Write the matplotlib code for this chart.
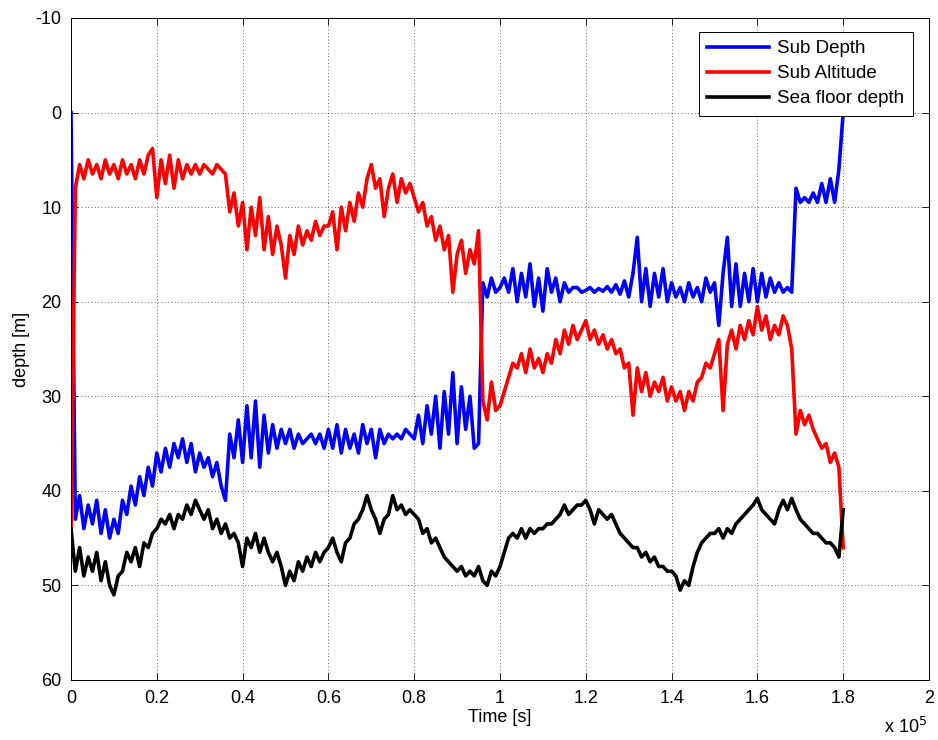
import numpy as np
import matplotlib
matplotlib.use('Agg')
import matplotlib.pyplot as plt

# samples every 1000 s (depth in m)
sub_depth = [
    0, 43, 40.5, 44, 41.5, 43.5, 41, 44.5, 42, 45,
    43, 44.5, 41, 42.5, 39.5, 41.5, 38.5, 40.5, 37.5, 39.5,
    36, 38, 35.5, 37.5, 35, 36.5, 34.5, 37, 35, 38,
    36, 37.5, 36.5, 38.5, 37, 39.5, 41, 34, 36.5, 32.5,
    37, 31, 36.5, 30.5, 37.5, 32, 36, 33, 35.5, 33.5,
    35, 33.5, 35.5, 34, 35, 34.5, 34, 35, 34, 35.5,
    33.5, 35.5, 33, 36, 33.5, 35.5, 34, 36, 33, 35,
    33.5, 36.5, 33.5, 35, 34, 34.5, 34, 34.5, 33.5, 34,
    34.5, 32, 35, 31, 34, 30, 35.5, 29.5, 34, 27.5,
    35, 29, 33.5, 30, 35.5, 35, 18, 19.5, 17.5, 19,
    18.5, 17.5, 19, 16.5, 20, 17, 19.5, 16, 20.5, 17.5,
    21, 16.5, 19, 17.5, 20, 18, 19, 18.5, 18.5, 19,
    18.8, 18.5, 19, 18.6, 18.9, 18.4, 19, 18.2, 19.2, 17.8,
    19.5, 17, 13.2, 20, 16.5, 20.5, 17, 19.5, 16.5, 20,
    18, 19.5, 18.5, 20, 18, 19.5, 18.5, 20, 17.5, 19,
    18, 22.5, 17, 13.2, 20.5, 16, 20.5, 17, 20, 16.5,
    20, 17, 19.5, 17.5, 19, 18, 19, 18.5, 19, 8,
    9.5, 9, 9.5, 8.5, 9.5, 7.5, 9.5, 7, 9.5, 6,
    0]

sub_altitude = [
    45, 8, 5.5, 7, 5, 6.5, 5.5, 7, 5, 6.5,
    5.5, 7, 5, 6.5, 5.5, 7, 5, 6.5, 4.5, 3.8,
    9, 5, 7.5, 4.5, 8, 5, 7, 5.5, 6.5, 5.5,
    6.5, 5.5, 6, 6.5, 5.5, 6, 6.5, 10.5, 8.5, 12,
    9.5, 14.5, 10, 13, 9, 14.5, 11, 15, 12, 14,
    17.5, 13, 15, 12, 14, 12.5, 13.5, 11.5, 13, 12,
    12, 10.5, 14.5, 10, 12.5, 9.5, 11.5, 8.5, 10, 7,
    5.5, 8, 7, 11, 8, 6.5, 9.5, 7, 8.5, 7.5,
    9, 10.5, 9.5, 12, 11, 13.5, 12, 14.5, 13, 19,
    15, 13.5, 17, 14.5, 16, 12.5, 30.5, 32.5, 28.5, 31.5,
    31, 29.5, 28, 26.5, 27, 25.5, 27.5, 25, 27, 26,
    27.5, 25.5, 26.5, 24, 25.5, 23, 24.5, 22.5, 24, 23,
    22, 24, 23, 24.5, 23.5, 25, 24, 25.5, 25, 27,
    26.5, 32, 27, 29.5, 27.5, 30, 28.5, 29.5, 28, 30.5,
    29, 30.5, 29.5, 31.5, 29.5, 30.5, 28.5, 28, 26.5, 27,
    25.5, 24, 31.5, 24.5, 23, 25, 22.5, 24, 22, 23.5,
    20.5, 23, 21.5, 24, 22.5, 23.5, 21.5, 22.5, 25, 34,
    31.5, 33, 32, 33.5, 34.5, 35.5, 35, 37, 36, 37.5,
    46]

sea_floor = [
    44, 48.5, 46, 49, 47, 48.5, 46.5, 49.5, 47.5, 50,
    51, 49, 48.5, 46.5, 47.5, 46, 48, 45.5, 46, 44.5,
    44, 43, 43.5, 42.5, 44, 42.5, 43, 41.5, 42.5, 41,
    42, 43, 42, 44, 43, 44.5, 43.5, 45, 44.5, 45.5,
    48, 45, 46, 44.5, 46.5, 45, 46.5, 47.5, 46.5, 48,
    50, 48.5, 49.5, 47.5, 48.5, 47, 48, 46.5, 47.5, 46.5,
    46, 45, 46.5, 47.5, 45.5, 45, 43.5, 43, 42, 40.5,
    42, 43, 44.5, 43, 42.5, 40.5, 42, 41.5, 42.5, 42,
    42.5, 43, 44.5, 44, 45.5, 45, 46, 47, 47.5, 48,
    48.5, 48, 49, 48.5, 49, 48, 49.5, 50, 48.5, 49,
    48, 46.5, 45, 44.5, 45, 44, 45, 44, 44.5, 44,
    44, 43.5, 43.5, 43, 42.5, 41.5, 42.5, 42, 41.5, 41.5,
    41, 42, 43.5, 42, 42.5, 43, 42.5, 43.5, 44.5, 45,
    45.5, 46, 46, 47, 46.5, 47.5, 47, 48, 48, 48.5,
    48.5, 49, 50.5, 49.5, 50, 48, 46.5, 45.5, 45, 44.5,
    44.5, 44, 45, 44, 44.5, 43.5, 43, 42.5, 42, 41.5,
    40.8, 42, 42.5, 43, 43.5, 42, 41, 42, 40.8, 42,
    43, 43.5, 44, 44.5, 44.5, 45, 45.5, 45.5, 46, 47,
    42]

xtick_labels = ['0', '0.2', '0.4', '0.6', '0.8', '1', '1.2', '1.4', '1.6', '1.8', '2']
ytick_vals = [-10, 0, 10, 20, 30, 40, 50, 60]

t = np.arange(len(sub_depth)) * 1000.0

plt.rcParams['font.family'] = ['Liberation Sans', 'DejaVu Sans']
plt.rcParams['font.size'] = 13

fig = plt.figure(figsize=(9.38, 7.4), dpi=100)
ax = fig.add_axes([0.0757, 0.0811, 0.9147, 0.8946])

ax.plot(t, sub_depth, color='#0000ff', lw=2.6, label='Sub Depth')
ax.plot(t, sub_altitude, color='#ff0000', lw=2.6, label='Sub Altitude')
ax.plot(t, sea_floor, color='black', lw=2.6, label='Sea floor depth')

ax.set_xlim(0, 2e5)
ax.set_ylim(60, -10)
ax.set_xticks(np.linspace(0, 2e5, 11))
ax.set_xticklabels(xtick_labels)
ax.set_yticks(ytick_vals)
ax.set_yticklabels([str(v) for v in ytick_vals])
ax.tick_params(direction='in', top=True, right=True, length=5, width=0.6, pad=7)
for s in ax.spines.values():
    s.set_linewidth(0.7)

ax.grid(True, linestyle=(0, (1, 3)), color='black', lw=0.6, alpha=0.8)
ax.set_axisbelow(True)

ax.set_xlabel('Time [s]', labelpad=2)
ax.set_ylabel('depth [m]', labelpad=4)
fig.text(0.942, 0.004, r'x 10$^5$', ha='left', va='bottom', fontsize=13)

leg = ax.legend(loc='upper right', bbox_to_anchor=(0.9814, 0.979), borderaxespad=0,
                fancybox=False, edgecolor='black', framealpha=1, handlelength=3.3,
                fontsize=13.5, borderpad=0.45, labelspacing=0.42, handletextpad=0.45)
leg.get_frame().set_linewidth(0.7)
for ln in leg.get_lines():
    ln.set_linewidth(2.6)

fig.savefig('out.png', dpi=100, facecolor='white')
